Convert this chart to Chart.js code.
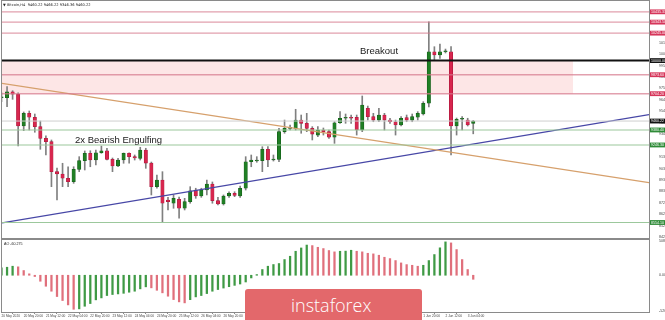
<!DOCTYPE html>
<html><head><meta charset="utf-8">
<script src="https://cdn.jsdelivr.net/npm/chart.js@4.4.0/dist/chart.umd.min.js"></script>
<style>
html,body{margin:0;padding:0;background:#fff;}
#wrap{position:relative;width:665px;height:320px;overflow:hidden;background:#fff;}
canvas{position:absolute;left:0;}
#c1{top:0;}
#c2{top:239px;}
.ann{position:absolute;font-family:"Liberation Sans",Arial,sans-serif;font-size:9.5px;line-height:9.5px;color:#1a1a1a;white-space:nowrap;}
#logo{position:absolute;left:245px;top:289px;width:177px;height:36px;background:#e3686b;border-radius:3px;}
#logo span{position:absolute;left:46px;top:7px;font-family:"Open Sans",sans-serif;font-weight:300;font-size:18px;line-height:18px;color:#fff;white-space:nowrap;}
</style></head>
<body>
<div id="wrap">
<canvas id="c1" width="665" height="239"></canvas>
<canvas id="c2" width="665" height="81"></canvas>
<div class="ann" style="left:360px;top:45.5px;">Breakout</div>
<div class="ann" style="left:75px;top:134.8px;">2x Bearish Engulfing</div>
<div id="logo"><span>instaforex</span></div>
</div>
<script>
// ---------------- data ----------------
const open  = [9668,9668,9722,9699,9416,9529,9494,9410,9306,9276,9008,8987,8949,8918,9029,9106,9172,9112,9177,9195,9118,9059,9112,9172,9142,9127,9201,9085,8874,8934,8755,8726,8761,8681,8740,8844,8791,8844,8898,8749,8719,8791,8815,8791,8860,9097,9103,9106,9208,9112,9118,9365,9395,9395,9469,9440,9395,9335,9380,9365,9315,9445,9485,9490,9494,9380,9574,9499,9469,9514,9469,9454,9425,9490,9469,9494,9523,9619,10079,10050,10079,10079,9416,9476,9469,9440];
const high  = [9711,9767,9731,9711,9541,9550,9523,9460,9327,9291,9041,9083,9052,9052,9142,9193,9195,9201,9237,9217,9130,9127,9175,9177,9157,9226,9217,9094,8978,9008,8779,8800,8782,8770,8874,8860,8860,8934,8916,8779,8800,8829,8829,8880,9142,9157,9142,9231,9231,9157,9395,9469,9425,9565,9514,9529,9410,9410,9398,9380,9454,9544,9523,9514,9514,9684,9594,9529,9574,9529,9485,9469,9499,9514,9523,9544,9633,10345,10124,10148,10103,10124,9487,9499,9485,9466];
const low   = [9633,9588,9654,9237,9374,9380,9360,9208,9157,8874,8755,8874,8874,8904,9008,9023,9052,9068,9172,9112,9008,9052,9083,9083,9112,9112,9038,8800,8860,8559,8666,8681,8592,8666,8726,8770,8779,8800,8726,8710,8710,8779,8785,8779,8844,9052,9092,9008,9052,9103,9097,9351,9380,9380,9351,9365,9291,9320,9335,9306,9261,9440,9440,9440,9335,9365,9469,9454,9454,9380,9440,9335,9416,9454,9454,9469,9514,9586,10005,10020,10068,9157,9335,9380,9416,9346];
const close = [9676,9722,9699,9416,9529,9494,9410,9306,9276,9008,8987,8949,8918,9029,9106,9172,9112,9177,9195,9118,9059,9112,9172,9142,9130,9201,9085,8874,8934,8726,8740,8770,8681,8740,8838,8791,8844,8898,8749,8719,8791,8815,8797,8860,9097,9112,9112,9208,9112,9117,9365,9395,9401,9469,9440,9395,9344,9380,9365,9315,9445,9485,9487,9485,9380,9603,9499,9469,9514,9469,9454,9425,9485,9469,9499,9529,9619,10079,10050,10079,10086,9416,9476,9478,9425,9460];
const ao    = [110,119,134,125,70,21,-19,-89,-163,-237,-316,-375,-440,-505,-499,-460,-420,-365,-336,-301,-286,-277,-268,-252,-237,-202,-172,-187,-223,-261,-311,-361,-395,-410,-362,-321,-301,-272,-237,-212,-190,-170,-150,-130,-100,-40,10,85,134,159,174,233,282,356,405,448,440,415,396,367,347,356,358,371,356,347,326,317,297,267,247,218,183,158,148,134,148,218,307,407,495,480,381,233,85,-60];

const xTickBars  = [0,4,8,12,16,20,24,28,32,36,40,44,48,52,56,60,64,68,72,76,80,84];
const xTickLabels = ['20 May 2020','20 May 20:00','21 May 12:00','22 May 04:00','22 May 20:00','23 May 12:00','24 May 04:00','24 May 20:00','25 May 12:00','26 May 04:00','26 May 20:00','27 May 12:00','28 May 04:00','28 May 20:00','29 May 12:00','30 May 04:00','30 May 20:00','31 May 12:00','1 Jun 04:00','1 Jun 20:00','2 Jun 12:00','3 Jun 04:00'];
const priceTicks = [10159.55,10057.35,9955.15,9852.95,9750.75,9648.55,9546.35,9444.15,9341.95,9239.75,9137.55,9035.35,8933.15,8830.95,8728.75,8626.55,8524.35,8422.15];
const aoTicks = [508.264, 0, -526.025];

const redLevels   = [10435.33, 10343.50, 10245.00, 9873.60, 9704.20];
const blackLevels = [10000.00];
const greenLevels = [9380.40, 9246.30, 8554.10];
const lastPrice   = 9460.22;
const zoneTop = 10000.00, zoneBottom = 9704.20, zoneEndBar = 103;
const orangeTrend = [[0.09, 9797], [116.67, 8910]];
const blueTrend   = [[0.09, 8550], [116.67, 9518]];

const titleText = '\u25BC Bitcoin,H4  9460.22 9466.22 9346.36 9460.22';
const aoTitle = 'AO -60.275';

// ---------------- layout / style ----------------
const X_MIN = 0.09, X_MAX = 116.67;
const Y_MIN = 8415.7, Y_MAX = 10532.1;
const AO_MIN = -545.3, AO_MAX = 523.1;
const GREEN = '#1f7f24', GREEN_B = '#135a17', RED = '#d8264e', RED_B = '#a8163a';
const TINY = {size: 3.6, family: '"Liberation Sans", Arial, sans-serif'};
const TINY_X = {size: 3.2, family: '"Liberation Sans", Arial, sans-serif'};

const hline = (v, color, w, x2) => ({
  type: 'line', data: [{x: X_MIN, y: v}, {x: x2 === undefined ? X_MAX : x2, y: v}],
  borderColor: color, borderWidth: w, pointRadius: 0, fill: false, order: 0
});

const datasets = [];
datasets.push({type: 'line', data: [{x: X_MIN, y: zoneTop}, {x: zoneEndBar, y: zoneTop}],
  borderWidth: 0, pointRadius: 0, backgroundColor: 'rgba(250,200,200,0.45)', fill: {value: zoneBottom}, order: 10});
datasets.push({type: 'bar', data: high.map((h, i) => ({x: i, y: [low[i], h]})),
  backgroundColor: '#808080', barThickness: 1, grouped: false, order: 5});
datasets.push({type: 'bar', data: open.map((o, i) => ({x: i, y: [Math.min(o, close[i]), Math.max(o, close[i])]})),
  backgroundColor: open.map((o, i) => close[i] >= o ? GREEN : RED),
  borderColor: open.map((o, i) => close[i] >= o ? GREEN_B : RED_B),
  borderWidth: 0.6, borderSkipped: false, barThickness: 3.4, minBarLength: 1, grouped: false, order: 4});
redLevels.forEach(v => datasets.push(hline(v, 'rgba(214,120,140,0.7)', 1.4)));
datasets.push(hline(lastPrice, '#cfcfcf', 1));
greenLevels.forEach(v => datasets.push(hline(v, '#9cc89c', 1.1)));
blackLevels.forEach(v => datasets.push(hline(v, '#111111', 2)));
datasets.push({type: 'line', data: orangeTrend.map(p => ({x: p[0], y: p[1]})), borderColor: '#d6a06c', borderWidth: 1.3, pointRadius: 0, fill: false, order: 0});
datasets.push({type: 'line', data: blueTrend.map(p => ({x: p[0], y: p[1]})), borderColor: '#4747a6', borderWidth: 1.3, pointRadius: 0, fill: false, order: 0});

const zeroPad = s => { s.width = 16; s.paddingTop = 0; s.paddingBottom = 0; s.paddingLeft = 0; s.paddingRight = 0; };

const framePlugin = {
  id: 'frame',
  afterDraw(chart) {
    const {ctx, chartArea: a} = chart;
    ctx.save();
    ctx.strokeStyle = '#8a8a8a';
    ctx.lineWidth = 1;
    ctx.strokeRect(a.left - 0.5, a.top - 0.5, a.right - a.left + 1, a.bottom - a.top + 1);
    ctx.restore();
  }
};

const labelPlugin = {
  id: 'levelLabels',
  afterDraw(chart) {
    const {ctx} = chart;
    const ys = chart.scales.y;
    const draw = (v, bg) => {
      const py = ys.getPixelForValue(v);
      ctx.fillStyle = bg;
      ctx.fillRect(650, py - 2.4, 15, 4.8);
      ctx.fillStyle = '#fff';
      ctx.font = '3.6px "Liberation Sans", Arial, sans-serif';
      ctx.textBaseline = 'middle';
      ctx.textAlign = 'left';
      ctx.fillText(v.toFixed(2), 651, py);
    };
    redLevels.forEach(v => draw(v, '#d6355a'));
    blackLevels.forEach(v => draw(v, '#111'));
    draw(lastPrice, '#111');
    greenLevels.forEach(v => draw(v, '#2e8b37'));
    ctx.fillStyle = '#222';
    ctx.font = '3.6px "DejaVu Sans", "Liberation Sans", sans-serif';
    ctx.textBaseline = 'middle';
    ctx.fillText(titleText, 3, 5);
  }
};

new Chart(document.getElementById('c1'), {
  type: 'bar',
  data: {datasets},
  options: {
    responsive: false, animation: false,
    layout: {padding: {left: 2, top: 1, right: 0, bottom: 1}},
    plugins: {legend: {display: false}, tooltip: {enabled: false}},
    scales: {
      x: {type: 'linear', min: X_MIN, max: X_MAX, offset: false, display: false},
      y: {position: 'right', min: Y_MIN, max: Y_MAX,
        afterFit: zeroPad,
        afterBuildTicks: s => { s.ticks = priceTicks.map(v => ({value: v})); },
        ticks: {font: TINY, color: '#444', padding: 2, autoSkip: false, callback: v => v.toFixed(2)},
        grid: {display: false}, border: {display: true, color: '#8a8a8a'}}
    }
  },
  plugins: [framePlugin, labelPlugin]
});

const aoTitlePlugin = {
  id: 'aoTitle',
  afterDraw(chart) {
    const {ctx} = chart;
    ctx.fillStyle = '#222';
    ctx.font = '3.6px "Liberation Sans", Arial, sans-serif';
    ctx.textBaseline = 'middle';
    ctx.textAlign = 'left';
    ctx.fillText(aoTitle, 4, 5);
  }
};

new Chart(document.getElementById('c2'), {
  type: 'bar',
  data: {datasets: [{
    data: ao.map((v, i) => ({x: i, y: v})),
    backgroundColor: ao.map((v, i) => (i === 0 || v >= ao[i - 1]) ? '#3f9a45' : '#e0707c'),
    barThickness: 1.6, grouped: false
  }]},
  options: {
    responsive: false, animation: false,
    layout: {padding: {left: 2, top: 1, right: 0, bottom: 0}},
    plugins: {legend: {display: false}, tooltip: {enabled: false}},
    scales: {
      x: {type: 'linear', min: X_MIN, max: X_MAX, offset: false, position: 'bottom',
        afterFit: s => { s.height = 8; s.paddingLeft = 0; s.paddingRight = 0; },
        afterBuildTicks: s => { s.ticks = xTickBars.map(v => ({value: v})); },
        ticks: {font: TINY_X, color: '#444', padding: 0.5, autoSkip: false, maxRotation: 0, align: 'start',
          callback: (v, i) => xTickLabels[i]},
        grid: {display: true, drawOnChartArea: false, drawTicks: true, tickLength: 2, color: '#8a8a8a'},
        border: {display: true, color: '#8a8a8a'}},
      y: {position: 'right', min: AO_MIN, max: AO_MAX,
        afterFit: zeroPad,
        afterBuildTicks: s => { s.ticks = aoTicks.map(v => ({value: v})); },
        ticks: {font: TINY, color: '#444', padding: 2, autoSkip: false,
          callback: v => v === 0 ? '0.00' : String(v)},
        grid: {display: false}, border: {display: true, color: '#8a8a8a'}}
    }
  },
  plugins: [framePlugin, aoTitlePlugin]
});
</script>
</body></html>
